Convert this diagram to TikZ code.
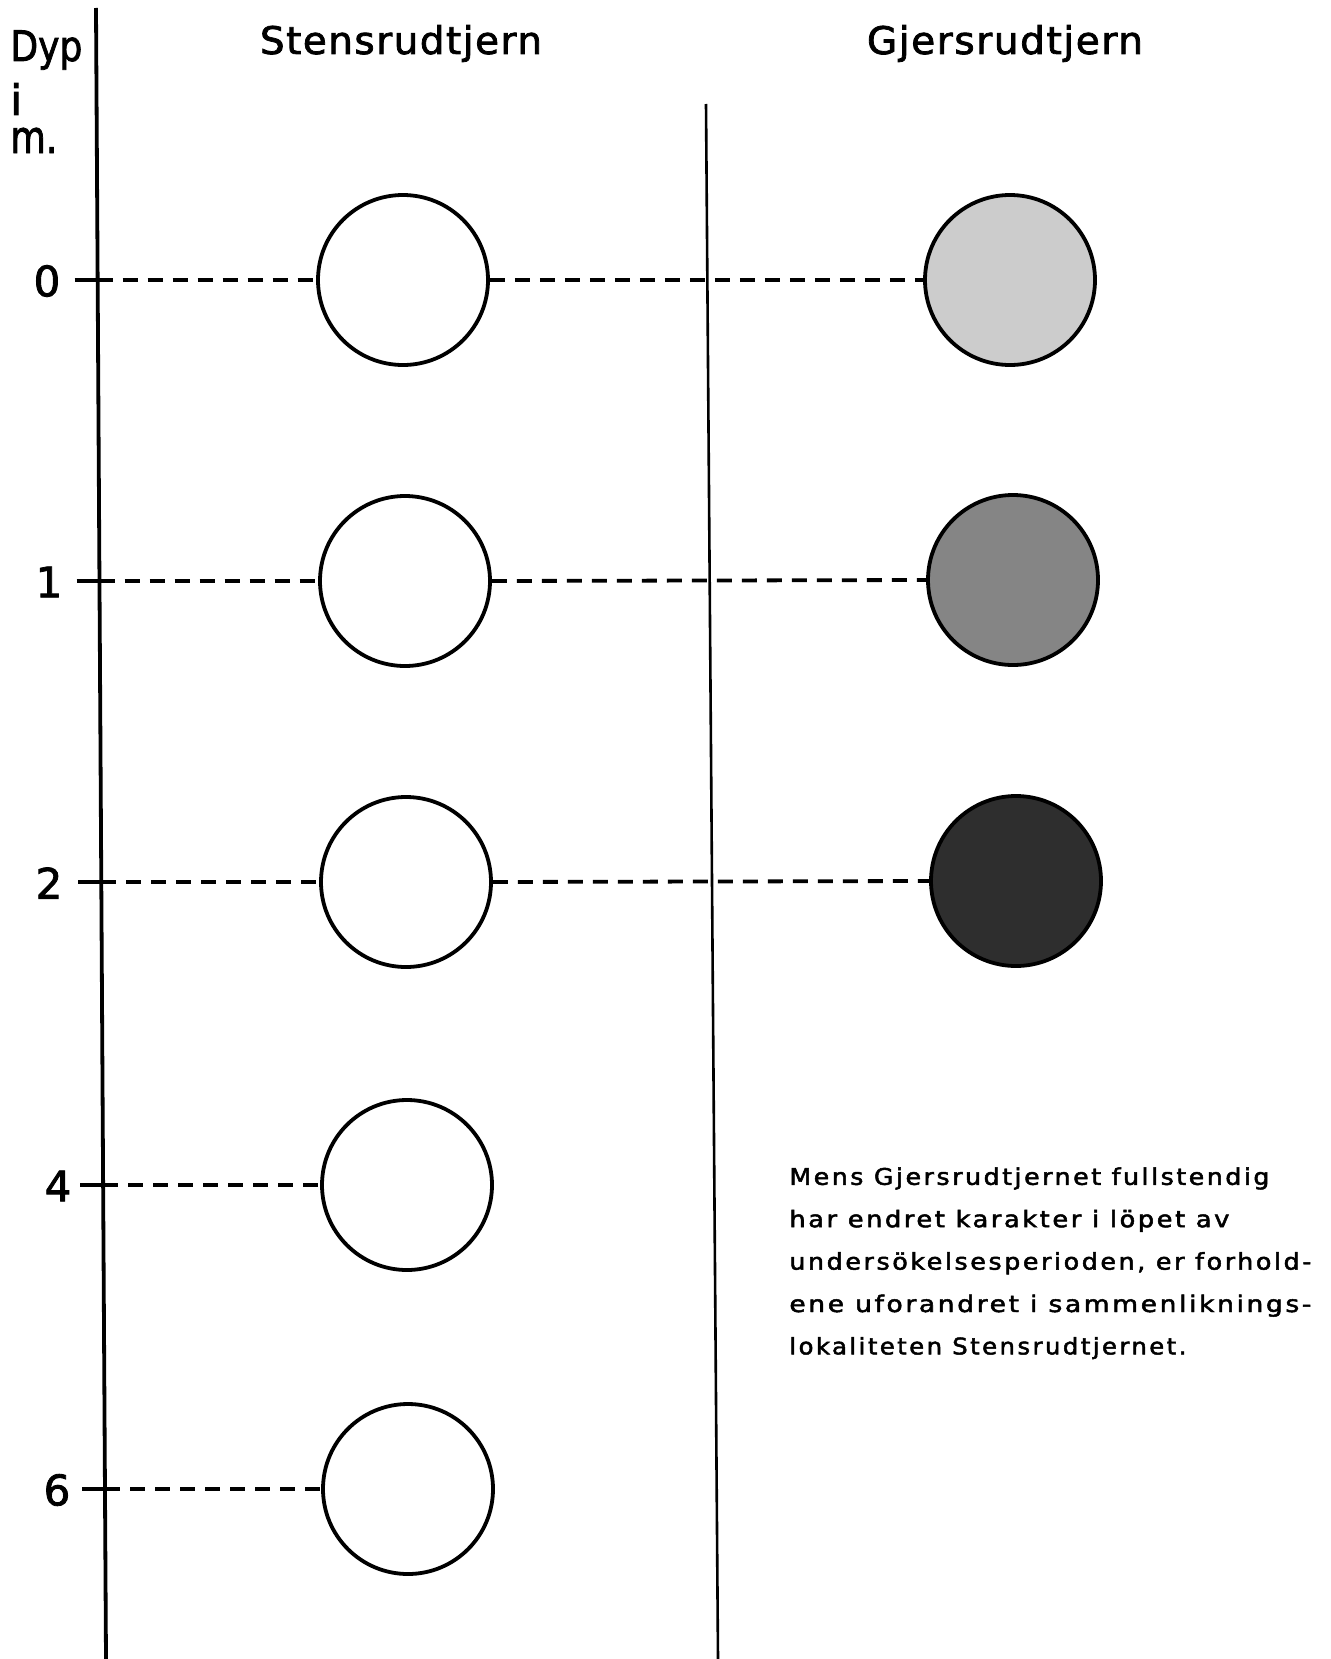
\documentclass[tikz,border=0pt]{standalone}
\usepackage{fontspec}
\usepackage{graphicx}
\setmainfont{DejaVu Sans}
\newfontfamily\headfont[LetterSpace=4,FakeBold=2]{DejaVu Sans}
\newfontfamily\labelfont[FakeBold=2]{DejaVu Sans}
\newfontfamily\parafont[LetterSpace=10,FakeBold=2]{DejaVu Sans}
\newcommand{\fitw}[2]{\resizebox{#1}{\height}{#2}}
\begin{document}
\begin{tikzpicture}[x=0.5pt,y=-0.5pt,
  axisline/.style={line width=1.9pt},
  sideline/.style={line width=1.3pt},
  tickmark/.style={line width=1.9pt},
  level/.style={line width=1.9pt, dash pattern=on 7.5pt off 5pt},
  probe/.style={circle, draw, line width=1.9pt, minimum size=85pt, inner sep=0pt},
  heading/.style={font=\headfont\fontsize{19pt}{22pt}\selectfont, anchor=base, inner sep=0pt},
  depth/.style={font=\labelfont\fontsize{21pt}{24pt}\selectfont, inner sep=0pt},
  note/.style={font=\parafont\fontsize{11.45pt}{21.2pt}\selectfont, align=left, anchor=north west, inner sep=0pt}
]
\useasboundingbox (0,0) rectangle (1330,1659);
\fill[white] (0,0) rectangle (1330,1659);

% axes
\coordinate (axtop) at (96,8);
\coordinate (axbot) at (106,1659);
\coordinate (rtop) at (706,104);
\coordinate (rbot) at (718,1659);
\draw[axisline] (axtop) -- (axbot);
\draw[sideline] (rtop) -- (rbot);

% headings
\node[heading] (hS) at (401,54) {\fitw{141pt}{Stensrudtjern}};
\node[heading] (hG) at (1005,54) {\fitw{138pt}{Gjersrudtjern}};

% axis title
\node[depth, anchor=base west] (dyp) at (10,61) {\fitw{36pt}{Dyp}};
\node[depth, anchor=base west, text height=16pt] (dypi) at (10,115) {i};
\node[depth, anchor=base west, text height=12pt, font=\labelfont\fontsize{22.5pt}{26pt}\selectfont] (dypm) at (10,153) {\fitw{23.5pt}{m.}};

% tick points on the axis
\coordinate (t0) at (97.6,280);
\coordinate (t1) at (99.5,581);
\coordinate (t2) at (101.3,882);
\coordinate (t4) at (103.1,1185);
\coordinate (t6) at (105,1489);

\foreach \t in {t0,t1,t2,t4,t6}
  \draw[tickmark] ([xshift=-11.5pt]\t) -- (\t);

\node[depth] (d0) at (47,281) {0};
\node[depth] (d1) at (49,582) {1};
\node[depth] (d2) at (49,883) {2};
\node[depth] (d4) at (58,1186) {4};
\node[depth] (d6) at (57,1490) {6};

% left circles (Stensrudtjern)
\node[probe, fill=white] (L0) at (403,280) {};
\node[probe, fill=white] (L1) at (405,581) {};
\node[probe, fill=white] (L2) at (406,882) {};
\node[probe, fill=white] (L4) at (407,1185) {};
\node[probe, fill=white] (L6) at (408,1489) {};

% right circles (Gjersrudtjern)
\node[probe, fill=black!20] (R0) at (1010,280) {};
\node[probe, fill=black!48] (R1) at (1013,580) {};
\node[probe, fill=black!82] (R2) at (1016,881) {};

% dashed level lines
\draw[level] (t0) -- (L0.west);
\draw[level] (t1) -- (L1.west);
\draw[level] (t2) -- (L2.west);
\draw[level] (t4) -- (L4.west);
\draw[level] (t6) -- (L6.west);
\draw[level] (L0.east) -- (R0.west);
\draw[level] (L1.east) -- (R1.west);
\draw[level] (L2.east) -- (R2.west);

% note
\node[note] (txt) at (789,1167) {\fitw{240pt}{Mens Gjersrudtjernet fullstendig}\\
\fitw{220pt}{har endret karakter i löpet av}\\
\fitw{261pt}{undersökelsesperioden, er forhold-}\\
\fitw{261pt}{ene uforandret i sammenliknings-}\\
\fitw{198.5pt}{lokaliteten Stensrudtjernet.}};
\end{tikzpicture}
\end{document}
